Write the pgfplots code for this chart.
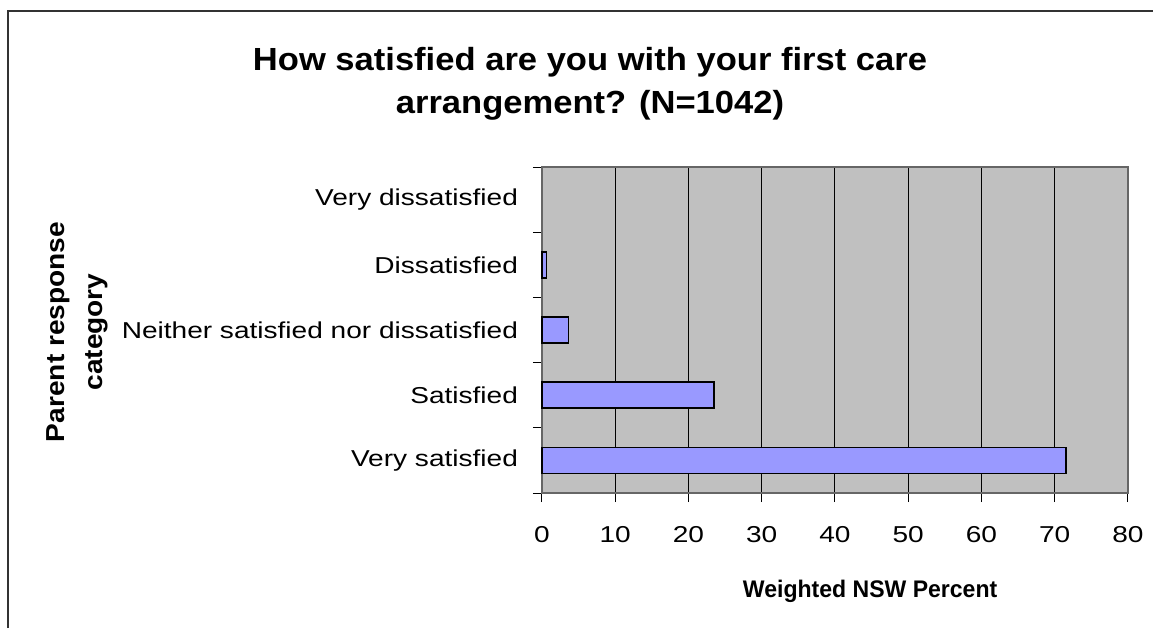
\documentclass[border=0pt]{standalone}
\usepackage{pgfplots}
\pgfplotsset{compat=1.18}
\usepackage{fontspec}
\setmainfont{Liberation Sans}
\newfontfamily\widefont{Liberation Sans}[FakeStretch=1.22]
\newfontfamily\semiwide{Liberation Sans}[FakeStretch=1.08]
\newfontfamily\narrowfont{Liberation Sans}[FakeStretch=0.96]
\definecolor{barfill}{HTML}{9999FF}
\definecolor{plotbg}{HTML}{C0C0C0}
\definecolor{framecol}{HTML}{333333}
\begin{document}
\begin{tikzpicture}
\path[use as bounding box] (0,0) rectangle (576.5pt,314pt);
\draw[framecol, line width=0.8pt] (4pt,0) -- (4pt,308.5pt) -- (576.5pt,308.5pt);
\begin{axis}[
  at={(271pt,67.5pt)}, anchor=south west,
  width=293pt, height=163pt, scale only axis,
  xbar, bar width=13pt,
  xmin=0, xmax=80, ymin=-0.5, ymax=4.5,
  xtick={0,10,...,80},
  xtick pos=bottom, ytick pos=left,
  ytick={-0.5,0.5,1.5,2.5,3.5,4.5},
  yticklabels={},
  extra y ticks={0,1,2,3,4},
  extra y tick labels={Very satisfied, Satisfied, Neither satisfied nor dissatisfied, Dissatisfied, Very dissatisfied},
  extra y tick style={tick style={draw=none}, yticklabel style={xshift=-4pt}},
  major tick length=4.5pt,
  tick style={black, line width=0.5pt},
  tick align=outside,
  xmajorgrids, major grid style={black, line width=0.5pt},
  axis background/.style={fill=plotbg},
  axis line style={draw=gray!80!black, line width=0.6pt},
  /pgf/number format/assume math mode=true,
  ticklabel style={font=\widefont\fontsize{11.5}{13}\selectfont},
  xticklabel style={yshift=-8.5pt},
  xlabel={\textbf{Weighted NSW Percent}},
  xlabel style={font=\narrowfont\fontsize{12}{14}\selectfont, at={(axis description cs:0.56,0)}, anchor=center, yshift=-49pt},
  clip=false,
]
\addplot[fill=barfill, draw=black, line width=0.8pt] coordinates {
  (71.5,0) (23.5,1) (3.6,2) (0.6,3)
};
\end{axis}
\node[align=center, font=\semiwide\fontsize{16}{21.5}\selectfont\bfseries] at (295pt,272pt) {How satisfied are you with your first care\\arrangement? (N=1042)};
\node[align=center, rotate=90, font=\semiwide\fontsize{13}{19}\selectfont\bfseries] at (38.5pt,148pt) {Parent response\\category};
\end{tikzpicture}
\end{document}
